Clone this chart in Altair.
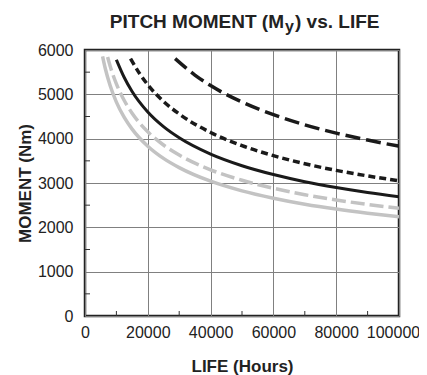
import altair as alt
import pandas as pd

# Series (hours, moment in Nm)
hours_gray_solid = [5600, 6500, 8000, 10000, 12500, 15000, 20000, 25000, 30000, 40000, 50000, 60000, 70000, 80000, 90000, 100000]
moment_gray_solid = [5858, 5571, 5199, 4825, 4480, 4216, 3830, 3555, 3347, 3040, 2822, 2657, 2522, 2412, 2320, 2240]

hours_gray_dash = [7200, 8000, 10000, 12500, 15000, 20000, 25000, 30000, 40000, 50000, 60000, 70000, 80000, 90000, 100000]
moment_gray_dash = [5842, 5640, 5235, 4860, 4573, 4155, 3857, 3630, 3298, 3062, 2882, 2736, 2617, 2517, 2430]

hours_black_solid = [10000, 12500, 15000, 20000, 25000, 30000, 40000, 50000, 60000, 70000, 80000, 90000, 100000]
moment_black_solid = [5780, 5380, 5063, 4600, 4270, 4019, 3651, 3389, 3190, 3029, 2898, 2786, 2690]

hours_short_dash = [14500, 17500, 20000, 25000, 30000, 40000, 50000, 60000, 70000, 80000, 90000, 100000]
moment_short_dash = [5804, 5456, 5215, 4841, 4557, 4139, 3843, 3617, 3434, 3285, 3160, 3050]

hours_long_dash = [28700, 35000, 40000, 50000, 60000, 70000, 80000, 90000, 100000]
moment_long_dash = [5806, 5435, 5197, 4826, 4542, 4313, 4125, 3968, 3830]

x_ticks = [0, 20000, 40000, 60000, 80000, 100000]
y_ticks = [0, 1000, 2000, 3000, 4000, 5000, 6000]
x_minor = [10000, 30000, 50000, 70000, 90000]
y_minor = [500, 1500, 2500, 3500, 4500, 5500]

title_parts = ["PITCH MOMENT (M", "y", ") vs. LIFE"]

FONT = "Liberation Sans, Arial, Helvetica, sans-serif"

x_enc = alt.X(
    "hours:Q",
    scale=alt.Scale(domain=[0, 100000], nice=False, zero=True),
    axis=alt.Axis(values=x_ticks, format="d", title="LIFE (Hours)",
                  labelPadding=8, titlePadding=18, labelOverlap=False,
                  labelBound=False, labelFlush=False,
                  labelOffset={"expr": "datum.value == 100000 ? -6 : 0"}),
)
y_enc = alt.Y(
    "moment:Q",
    scale=alt.Scale(domain=[0, 6000], nice=False),
    axis=alt.Axis(values=y_ticks, format="d", title="MOMENT (Nm)",
                  labelPadding=12, titlePadding=3, labelOverlap=False),
)

def line(hrs, mom, color, width, dash=None):
    df = pd.DataFrame({"hours": hrs, "moment": mom})
    kw = dict(color=color, strokeWidth=width, interpolate="monotone", clip=True)
    if dash:
        kw["strokeDash"] = dash
    return alt.Chart(df).mark_line(**kw).encode(x=x_enc, y=y_enc)

layers = [
    line(hours_gray_solid, moment_gray_solid, "#c3c3c3", 3.5),
    line(hours_gray_dash, moment_gray_dash, "#c3c3c3", 3.5, [14, 5]),
    line(hours_black_solid, moment_black_solid, "#1a1a1a", 3),
    line(hours_short_dash, moment_short_dash, "#1a1a1a", 3.5, [7, 4]),
    line(hours_long_dash, moment_long_dash, "#1a1a1a", 3.5, [15, 6]),
]

minor_x = alt.Chart(pd.DataFrame({"hours": x_minor})).mark_rule(
    color="#333", strokeWidth=1).encode(x=x_enc, y=alt.value(266), y2=alt.value(261))
minor_y = alt.Chart(pd.DataFrame({"moment": y_minor})).mark_rule(
    color="#333", strokeWidth=1).encode(y=y_enc, x=alt.value(0), x2=alt.value(5))

t1 = alt.Chart(pd.DataFrame({"label": [title_parts[0]]})).mark_text(
    font=FONT, fontSize=19, fontWeight="bold", align="right", baseline="alphabetic",
    color="#222").encode(text="label:N", x=alt.value(199), y=alt.value(-22))
t2 = alt.Chart(pd.DataFrame({"label": [title_parts[1]]})).mark_text(
    font=FONT, fontSize=16, fontWeight="bold", align="left", baseline="alphabetic",
    color="#222").encode(text="label:N", x=alt.value(200), y=alt.value(-18))
t3 = alt.Chart(pd.DataFrame({"label": [title_parts[2]]})).mark_text(
    font=FONT, fontSize=19, fontWeight="bold", align="left", baseline="alphabetic",
    color="#222").encode(text="label:N", x=alt.value(210), y=alt.value(-22))

chart = alt.layer(minor_x, minor_y, *layers, t1, t2, t3).properties(
    width=314, height=266,
    padding={"left": 77, "top": 42, "right": 20, "bottom": 59},
    autosize=alt.AutoSizeParams(type="none"),
).configure_view(
    stroke="#222", strokeWidth=2.5
).configure_axis(
    labelFont=FONT, labelFontSize=16, labelColor="#222",
    titleFont=FONT, titleFontSize=17, titleFontWeight="bold", titleColor="#222",
    ticks=False, domain=False, grid=True, gridColor="#808080", gridWidth=1,
    gridOpacity=1,
)

chart.save("out.html", embed_options={"renderer": "svg", "actions": False})
